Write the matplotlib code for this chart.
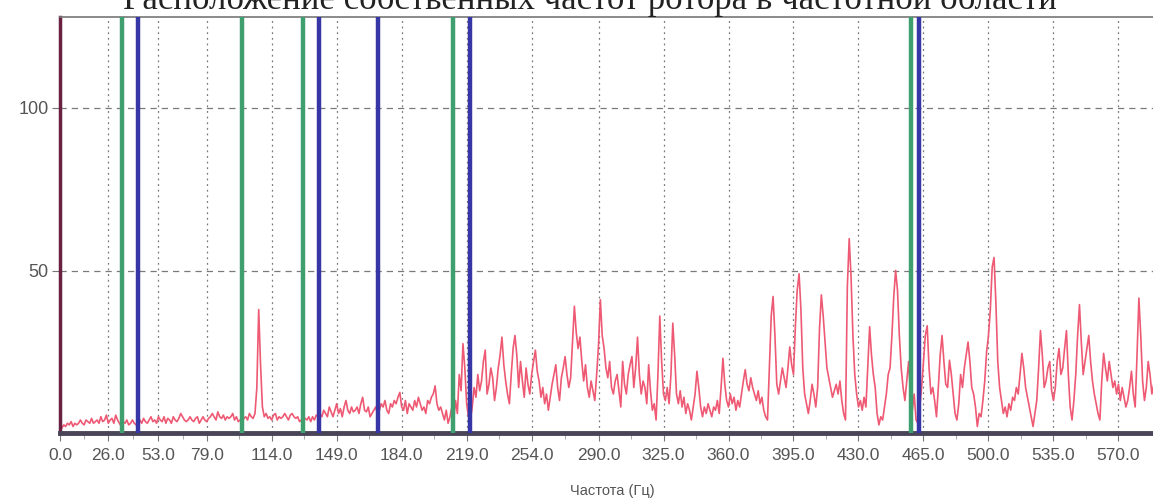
import matplotlib.pyplot as plt
import numpy as np

# спектр (амплитуда через каждый 1 Гц, начиная с 0 Гц)
f_start = 0.0
f_step = 1.0
amp = [
    2, 1.5, 2.5, 2, 3, 2.5, 3.5, 2, 3, 2.5,
    3, 4, 3, 2.5, 4, 3.5, 3, 4.5, 3, 3.5,
    4, 3, 5, 3.5, 4, 5.5, 3, 4, 4.5, 3,
    5.5, 4, 3, 2, 3.5, 3, 4, 2.5, 3, 4,
    3, 2.5, 3.5, 4, 3, 4.5, 3.5, 3, 4, 5,
    3.5, 4, 3, 5, 4, 3.5, 5, 3, 4.5, 4,
    3, 5, 4, 3.5, 4.5, 6, 5, 4, 3.5, 4,
    5, 4, 3.5, 4.5, 5, 3, 4, 5, 4, 3.5,
    4.5, 5, 6, 5, 4, 6.5, 5, 4.5, 5.5, 4,
    5, 4.5, 5, 6, 4, 5, 3.5, 4, 3, 4.5,
    5, 4, 6, 5, 4.5, 6, 14, 38, 21, 8,
    5, 6, 4.5, 5, 4, 5.5, 6, 4, 5, 4.5,
    5, 6, 5, 4, 5.5, 6, 5, 4.5, 5, 3.5,
    4, 5, 4.5, 4, 5, 3.5, 5, 4, 5.5, 5,
    6, 5, 7, 6, 5, 8, 6.5, 5, 7, 9,
    6, 7.5, 5, 8, 10, 7, 6, 8, 6.5, 7,
    8, 6, 9, 11, 7, 6.5, 8, 5, 6, 7,
    8, 6, 7, 9, 8, 10, 7, 6, 9, 8,
    10, 9, 11, 12.5, 8, 7, 10, 6, 9, 8,
    7, 10, 8, 11, 9, 7, 8, 6, 10, 9,
    11, 12, 14.5, 9, 7, 8, 6, 4, 7, 3,
    5, 8, 4, 10, 6, 18, 13, 27.5, 20, 9,
    5, 4, 8, 14, 11, 18, 13, 16, 22, 25.5,
    12, 15, 20, 17, 10, 14, 20, 24, 29.5, 21,
    16, 12, 9, 18, 26, 30, 24, 14, 22, 16,
    11, 20, 15, 12, 18, 22, 25.5, 19, 16, 11,
    14, 9, 12, 7, 11, 15, 18, 21, 14, 10,
    17, 20, 23.5, 18, 14, 17, 28, 39, 31, 26,
    29.5, 22, 16, 21, 14, 11, 16, 13, 10, 18,
    27, 41, 30, 26, 20, 17, 22, 14, 12, 16,
    18, 13, 8, 22, 15, 12, 18, 21, 23.5, 14,
    20, 29.5, 18, 12, 16, 14, 9, 21, 13, 7,
    9, 4, 18, 36, 22, 12, 10, 14, 9, 18,
    33.8, 24, 12, 9, 13, 8, 11, 6, 9, 7,
    4, 8, 12, 19, 14, 8, 5, 8, 6, 9,
    7, 5, 8, 7, 10, 6, 14, 23, 15, 10,
    8, 12, 9, 11, 7, 10, 8, 12, 16, 19.5,
    15, 13, 17, 14, 12, 10, 13, 9, 11, 7,
    5, 4, 20, 36, 42, 30, 15, 12, 16, 20,
    17, 14, 20, 26.5, 21, 18, 32.7, 44, 49, 38,
    20, 12, 9, 6, 10, 15, 12, 8, 14, 32,
    42.5, 36, 28, 20, 17, 14, 11, 13, 15, 12,
    16, 10, 6, 4, 45, 59.8, 48, 30, 18, 12,
    8, 10, 7, 11, 8, 20, 32.7, 24, 18, 14,
    6, 2.5, 5, 4, 8, 12, 18, 20, 30, 42,
    50, 44, 30, 20, 14, 10, 16, 22, 12, 7,
    12, 4, 3, 8, 14, 22, 30, 33, 20, 12,
    14, 10, 5, 14, 24, 30, 22, 15, 14, 22.4,
    18, 12, 6, 4, 9, 18, 14, 20, 24, 28,
    22, 14, 12, 8, 2, 6, 5, 10, 16, 25,
    30, 38, 51, 54, 40, 22, 14, 10, 6, 8,
    5, 9, 7, 11, 10, 14, 12, 18, 24.5, 20,
    14, 11, 8, 5, 2, 6, 10, 20, 31.5, 24,
    14, 16, 20, 22, 13, 10, 14, 22, 26, 18,
    20, 26, 31.5, 18, 8, 4, 10, 18, 30, 39.5,
    28, 18, 22, 26, 30, 22, 16, 12, 9, 6,
    4, 16, 24.5, 20, 16, 22, 18, 14, 16, 12,
    15, 10, 14, 11, 8, 10, 14, 19, 12, 8,
    24, 41.5, 30, 16, 10, 14, 22, 18, 12, 15,
]
freq = f_start + f_step * np.arange(len(amp))

# собственные частоты ротора (Гц)
green_freqs = [33.4, 98.1, 130.9, 211.6, 458.3]
blue_freqs = [42.0, 139.5, 171.4, 220.7, 462.6]

xtick_vals = [0, 26, 53, 79, 114, 149, 184, 219, 254, 290, 325, 360,
              395, 430, 465, 500, 535, 570]
xtick_labels = ['0.0', '26.0', '53.0', '79.0', '114.0', '149.0', '184.0',
                '219.0', '254.0', '290.0', '325.0', '360.0', '395.0',
                '430.0', '465.0', '500.0', '535.0', '570.0']
ytick_vals = [50, 100]

title = 'Расположение собственных частот ротора в частотной области'
xlabel = 'Частота (Гц)'

plt.rcParams['font.family'] = ['Liberation Sans', 'DejaVu Sans']

fig = plt.figure(figsize=(11.53, 5.0), dpi=100)
ax = fig.add_axes([60 / 1153, 67 / 500, 1093 / 1153, 416 / 500])

ax.plot(freq, amp, color='#ee5a74', lw=1.2, zorder=2)
for f in green_freqs:
    ax.axvline(f, color='#3f9f6e', lw=3.2, zorder=3)
for f in blue_freqs:
    ax.axvline(f, color='#3636a6', lw=3.2, zorder=3)

ax.set_xlim(0, 588.6)
ax.set_ylim(0, 128)

ax.set_xticks(xtick_vals)
ax.set_xticklabels(xtick_labels)
mids = [(a + b) / 2 for a, b in zip(xtick_vals[:-1], xtick_vals[1:])]
ax.set_xticks(mids, minor=True)
ax.set_yticks(ytick_vals)
ax.tick_params(axis='x', which='major', length=6, color='#777777', pad=5,
               labelsize=12.5, labelcolor='#555555')
ax.tick_params(axis='x', which='minor', length=4, color='#999999')
ax.tick_params(axis='y', length=6, color='#777777', labelsize=13,
               labelcolor='#555555', pad=2)

ax.grid(axis='x', which='major', color='#7a7a7a', ls=(0, (1.5, 3)), lw=0.9)
ax.grid(axis='y', color='#7a7a7a', ls=(0, (5, 4)), lw=0.9)

ax.spines['left'].set_color('#6a2040')
ax.spines['left'].set_linewidth(2.5)
ax.spines['bottom'].set_color('#4a4458')
ax.spines['bottom'].set_linewidth(3.5)
ax.spines['top'].set_color('#777777')
ax.spines['top'].set_linewidth(1.2)
ax.spines['right'].set_visible(False)

ax.set_xlabel(xlabel, fontsize=10.5, color='#555555')
ax.xaxis.set_label_coords(0.505, -0.122)

# заголовок в оригинале обрезан сверху
fig.text(0.512, 0.982, title, ha='center', va='baseline', fontsize=25,
         family=['Liberation Serif', 'DejaVu Serif'], color='#222222')

fig.savefig('out.png', dpi=100)
